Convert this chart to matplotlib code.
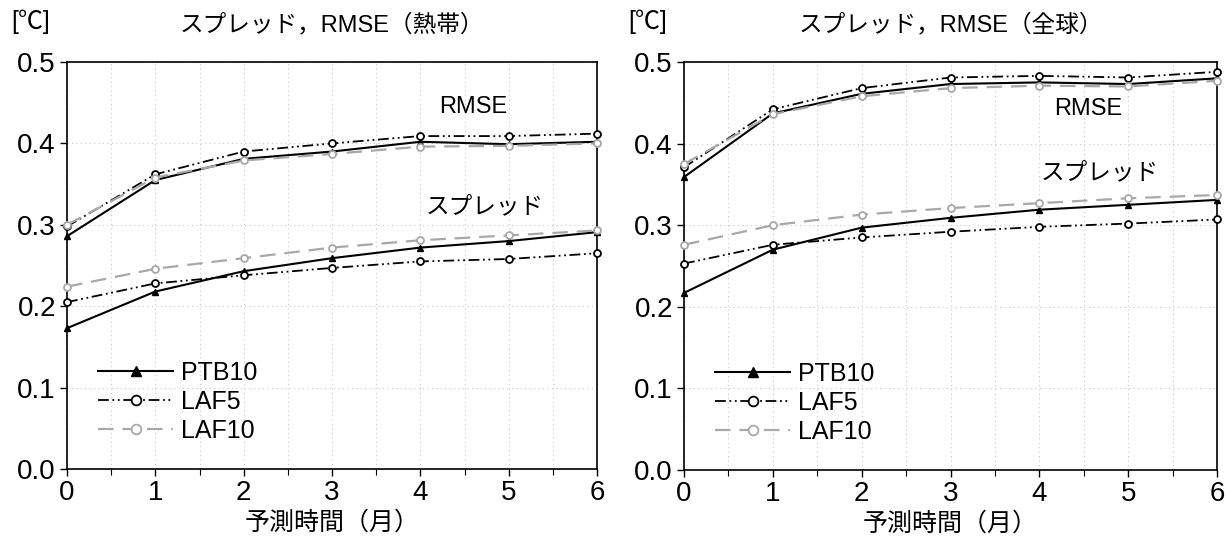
import matplotlib

matplotlib.use("Agg")

import matplotlib.pyplot as plt  # noqa: E402
from matplotlib.ticker import MultipleLocator  # noqa: E402

plt.rcParams["font.family"] = ["Liberation Sans", "Noto Sans CJK JP"]

# lead time (months)
months = [0, 1, 2, 3, 4, 5, 6]

# tropics
trop_rmse_ptb10 = [0.286, 0.355, 0.381, 0.390, 0.402, 0.399, 0.402]
trop_rmse_laf5 = [0.298, 0.362, 0.390, 0.400, 0.409, 0.409, 0.412]
trop_rmse_laf10 = [0.300, 0.358, 0.379, 0.387, 0.396, 0.397, 0.400]
trop_spread_ptb10 = [0.173, 0.218, 0.243, 0.259, 0.272, 0.280, 0.291]
trop_spread_laf5 = [0.205, 0.228, 0.238, 0.247, 0.255, 0.258, 0.265]
trop_spread_laf10 = [0.224, 0.246, 0.259, 0.272, 0.281, 0.287, 0.293]

# global
glob_rmse_ptb10 = [0.359, 0.437, 0.461, 0.473, 0.475, 0.473, 0.480]
glob_rmse_laf5 = [0.371, 0.442, 0.468, 0.481, 0.483, 0.481, 0.488]
glob_rmse_laf10 = [0.375, 0.436, 0.458, 0.468, 0.471, 0.470, 0.477]
glob_spread_ptb10 = [0.217, 0.270, 0.297, 0.309, 0.319, 0.325, 0.331]
glob_spread_laf5 = [0.253, 0.276, 0.285, 0.292, 0.298, 0.302, 0.307]
glob_spread_laf10 = [0.276, 0.300, 0.313, 0.321, 0.327, 0.333, 0.337]

titles = ["スプレッド，RMSE（熱帯）", "スプレッド，RMSE（全球）"]
xlabel = "予測時間（月）"
unit = "[℃]"

STYLES = {
    "PTB10": dict(color="black", ls="-", lw=1.5, marker="^", ms=5,
                  mfc="black", mec="black"),
    "LAF5": dict(color="black", ls=(0, (6, 2, 1, 2, 1, 2)), lw=1.3, marker="o",
                 ms=5, mfc="white", mec="black", mew=1.3),
    "LAF10": dict(color="#a8a8a8", ls=(0, (7, 4)), lw=1.6, marker="o", ms=5,
                  mfc="white", mec="#a8a8a8", mew=1.3),
}

fig = plt.figure(figsize=(12.29, 5.39), dpi=100)
ax_l = fig.add_axes([67 / 1229, 1 - 469 / 539, 530 / 1229, 407 / 539])
ax_r = fig.add_axes([684 / 1229, 1 - 470 / 539, 533 / 1229, 408 / 539])

panels = [
    (ax_l, [trop_rmse_ptb10, trop_rmse_laf5, trop_rmse_laf10],
     [trop_spread_ptb10, trop_spread_laf5, trop_spread_laf10],
     (4.6, 0.445), (4.73, 0.321)),
    (ax_r, [glob_rmse_ptb10, glob_rmse_laf5, glob_rmse_laf10],
     [glob_spread_ptb10, glob_spread_laf5, glob_spread_laf10],
     (4.55, 0.443), (4.68, 0.364)),
]

for i, (ax, rmse, spread, rmse_pos, spread_pos) in enumerate(panels):
    for name, r, s in zip(STYLES, rmse, spread):
        ax.plot(months, s, clip_on=False, zorder=3, **STYLES[name])
        ax.plot(months, r, clip_on=False, zorder=3, label=name, **STYLES[name])
    ax.set_xlim(0, 6)
    ax.set_ylim(0, 0.5)
    ax.xaxis.set_major_locator(MultipleLocator(1))
    ax.xaxis.set_minor_locator(MultipleLocator(0.5))
    ax.yaxis.set_major_locator(MultipleLocator(0.1))
    ax.set_yticklabels([f"{v:.1f}" for v in ax.get_yticks()])
    ax.grid(True, which="both", axis="x", ls=(0, (1, 3)), color="#c8c8c8", lw=0.8)
    ax.grid(True, which="major", axis="y", ls=(0, (1, 3)), color="#c8c8c8", lw=0.8)
    ax.tick_params(which="major", length=5, width=1.0, labelsize=20, pad=3)
    ax.tick_params(which="minor", length=4, width=0.8)
    for sp in ax.spines.values():
        sp.set_linewidth(1.2)
    ax.set_xlabel(xlabel, fontsize=18, labelpad=3)
    ax.set_title(titles[i], fontsize=17, pad=22)
    ax.text(*rmse_pos, "RMSE", fontsize=17, ha="center", va="center")
    ax.text(*spread_pos, "スプレッド", fontsize=17, ha="center", va="center")
    ax.legend(loc="upper left", bbox_to_anchor=(0.04, 0.29), frameon=False,
              fontsize=18, handlelength=3.0, handletextpad=0.3,
              labelspacing=0.2, borderaxespad=0, markerscale=1.4)
    fig.text(ax.get_position().x0 - 0.045, 1 - 22 / 539, unit, fontsize=18,
             ha="left", va="center")

fig.savefig("out.png", dpi=100)
plt.close(fig)
